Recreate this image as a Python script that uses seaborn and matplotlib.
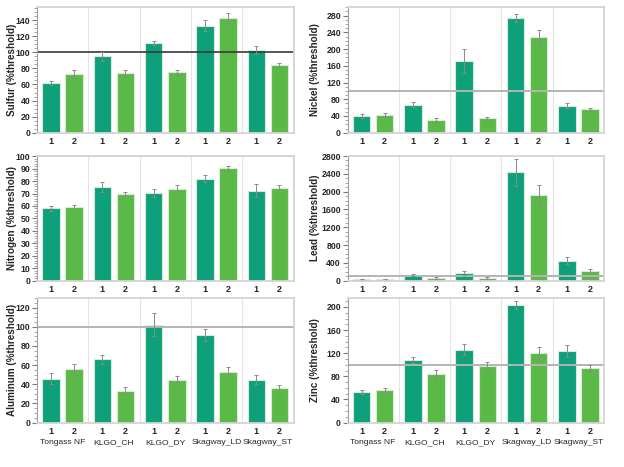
import numpy as np
import pandas as pd
import matplotlib
matplotlib.use("Agg")
import matplotlib.pyplot as plt
from matplotlib.ticker import MultipleLocator
import seaborn as sns

sites = ["Tongass NF", "KLGO_CH", "KLGO_DY", "Skagway_LD", "Skagway_ST"]
reps = ["1", "2"]

# values ordered site by site: site1 rep1, site1 rep2, site2 rep1, ...
sulfur = [62, 73, 95, 74, 111, 75, 133, 143, 103, 84]
sulfur_err = [2.5, 5, 5.5, 4.5, 2.5, 3, 7, 6.5, 4.5, 2.7]
nickel = [40, 43, 67, 31, 171, 35, 274, 228, 65, 56]
nickel_err = [5.5, 4.8, 6, 5, 29, 2.4, 10, 17, 5, 3]
nitrogen = [58, 59.5, 75.2, 69.3, 70.7, 73.9, 82.1, 90.4, 72.3, 74.7]
nitrogen_err = [1.9, 1.5, 4.3, 2, 3.2, 2.9, 2.8, 2.1, 5, 1.9]
lead = [37, 37, 127, 60, 165, 60, 2433, 1916, 449, 210]
lead_err = [10, 10, 15, 20, 50, 20, 310, 230, 75, 45]
aluminum = [46, 56.4, 66.2, 33.4, 102, 44.6, 91.6, 53.3, 44.6, 35.9]
aluminum_err = [5.6, 5.2, 4.9, 4, 12, 4.3, 6.3, 5.2, 4.7, 3.5]
zinc = [52.3, 55.7, 108, 83.9, 125.9, 98.3, 202.9, 120, 124, 93.7]
zinc_err = [3.2, 4.3, 4.6, 6.3, 9.2, 6.3, 6.9, 11.5, 9.8, 5.2]

threshold = 100

sns.set_style("white")
plt.rcParams["font.family"] = ["Liberation Sans", "DejaVu Sans"]

colors = ["#0e9f7b", "#5bba47"]

fig = plt.figure(figsize=(6.24, 4.67), dpi=100)

W, H = 624, 467
col_left = [37, 347.5]
col_width = 256.5
label_x = [-0.078, -0.108]
row_top_bottom = [(7.3, 132.7), (155.5, 280.6), (297.7, 422.5)]

panels = [
    ("Sulfur (%threshold)", sulfur, sulfur_err, 156, 20, 5, 0, 0),
    ("Nickel (%threshold)", nickel, nickel_err, 300, 40, 10, 0, 1),
    ("Nitrogen (%threshold)", nitrogen, nitrogen_err, 100.6, 10, 2, 1, 0),
    ("Lead (%threshold)", lead, lead_err, 2812, 400, 100, 1, 1),
    ("Aluminum (%threshold)", aluminum, aluminum_err, 130.5, 20, 5, 2, 0),
    ("Zinc (%threshold)", zinc, zinc_err, 216, 40, 10, 2, 1),
]

for label, vals, errs, ymax, major, minor, row, col in panels:
    top, bottom = row_top_bottom[row]
    ax = fig.add_axes([col_left[col] / W, 1 - bottom / H,
                       col_width / W, (bottom - top) / H])

    df = pd.DataFrame({
        "site": np.repeat(sites, 2),
        "rep": reps * len(sites),
        "value": vals,
        "err": errs,
    })

    sns.barplot(data=df, x="site", y="value", hue="rep", hue_order=reps,
                order=sites, palette=colors, saturation=1, width=0.9,
                gap=0.24, errorbar=None, legend=False, edgecolor="#d6ecd6",
                linewidth=0.8, ax=ax)

    # error bars from the drawn bars
    centers = []
    for p in ax.patches:
        xc = p.get_x() + p.get_width() / 2
        i = int(round(xc))
        r = 0 if xc < i else 1
        ax.errorbar(xc, p.get_height(), yerr=df["err"].iloc[2 * i + r],
                    color="#8a8a8a", lw=0.7, capsize=1.4, capthick=0.7,
                    zorder=5)
        centers.append(xc)
    centers = sorted(centers)

    # threshold line
    if label.startswith("Sulfur"):
        ax.axhline(threshold, color="#3a3a3a", lw=1.2, zorder=1)
    else:
        ax.axhline(threshold, color="#b4b4b4", lw=1.4, zorder=1)

    # group separators
    for i in range(len(sites) - 1):
        ax.axvline(i + 0.5, color="#e4e4e4", lw=0.8, zorder=0)

    ax.set_xlim(-0.5, len(sites) - 0.5)
    ax.set_ylim(0, ymax)
    ax.yaxis.set_major_locator(MultipleLocator(major))
    ax.yaxis.set_minor_locator(MultipleLocator(minor))

    ax.set_xticks(centers)
    ax.set_xticklabels(reps * len(sites), fontweight="bold")
    ax.tick_params(axis="x", which="major", length=0, pad=3, labelsize=6.5)
    if row == 2:
        ax.set_xticks(range(len(sites)), minor=True)
        ax.set_xticklabels(sites, minor=True)
        ax.tick_params(axis="x", which="minor", length=0, pad=12,
                       labelsize=6.1)

    ax.tick_params(axis="y", which="major", left=True, length=3.5,
                   width=0.8, color="#7a7a7a", labelsize=6.3, pad=1.2)
    ax.tick_params(axis="y", which="minor", left=True, length=2,
                   width=0.6, color="#9a9a9a")
    for t in ax.get_yticklabels():
        t.set_fontweight("bold")

    ax.set_xlabel("")
    ax.set_ylabel(label, fontsize=7.1, fontweight="bold")
    ax.yaxis.set_label_coords(label_x[col], 0.5)

    for side in ["top", "right", "bottom"]:
        ax.spines[side].set_color("#d4d4d4")
        ax.spines[side].set_linewidth(1.3)
    ax.spines["left"].set_color("#a0a0a0")
    ax.spines["left"].set_linewidth(0.8)

plt.savefig("out.png", dpi=100)
